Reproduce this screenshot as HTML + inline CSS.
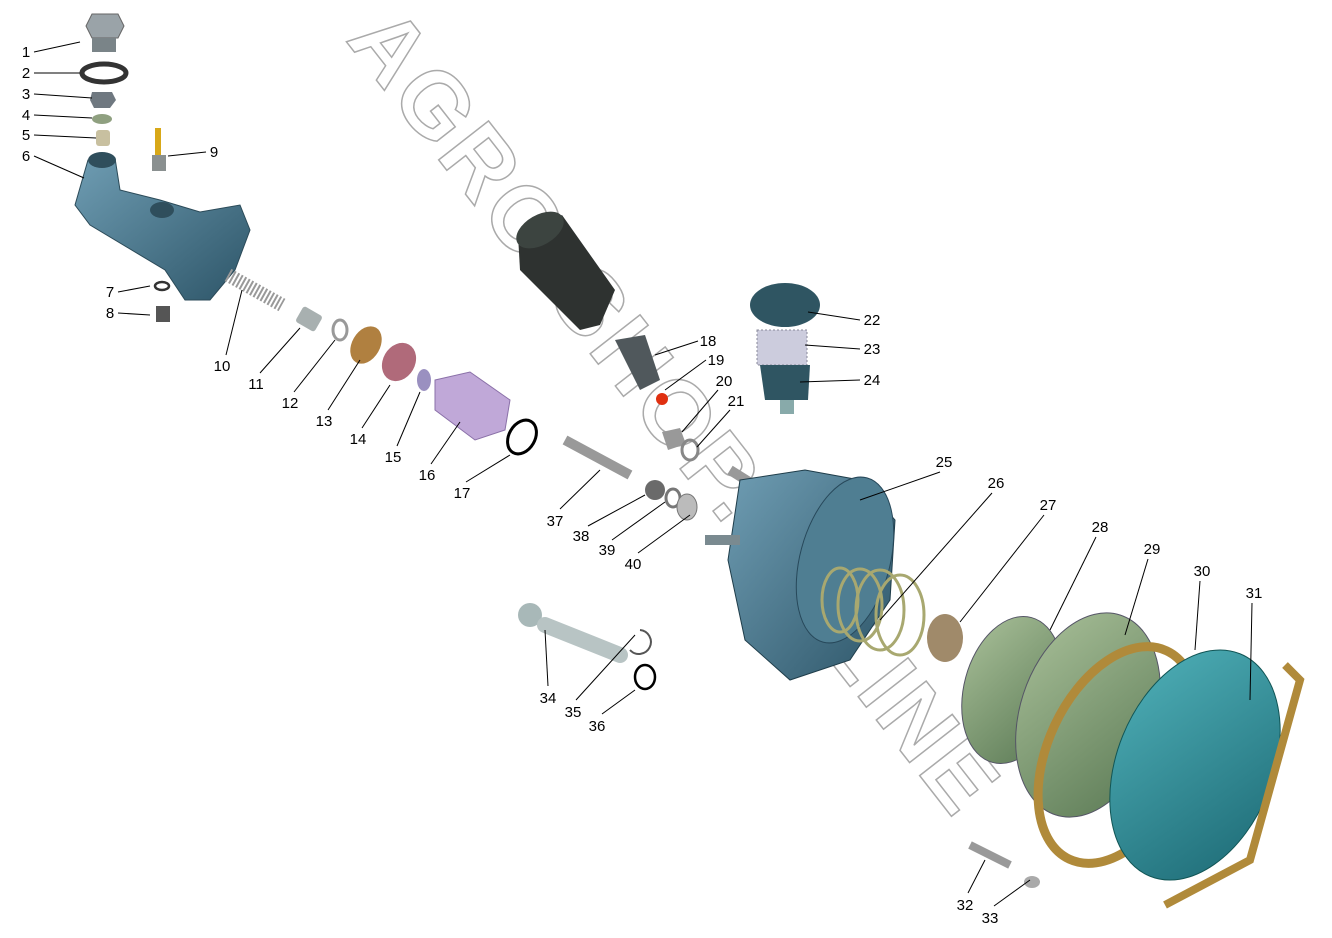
<!DOCTYPE html>
<html><head><meta charset="utf-8"><style>
html,body{margin:0;padding:0;background:#fff;}
svg{display:block}
.l{font-family:"Liberation Sans",sans-serif;font-size:15px;fill:#000}
.ln{stroke:#000;stroke-width:1}
</style></head><body>
<svg width="1332" height="938" viewBox="0 0 1332 938" xmlns="http://www.w3.org/2000/svg">
<defs>
<linearGradient id="bl" x1="0" y1="0" x2="1" y2="1"><stop offset="0" stop-color="#6f9db3"/><stop offset="1" stop-color="#2d5568"/></linearGradient>
<linearGradient id="gr" x1="0" y1="0" x2="1" y2="1"><stop offset="0" stop-color="#a8bf98"/><stop offset="1" stop-color="#5b7a55"/></linearGradient>
<linearGradient id="tl" x1="0" y1="0" x2="1" y2="1"><stop offset="0" stop-color="#4fb0b8"/><stop offset="1" stop-color="#1d6a75"/></linearGradient>
</defs>
<text x="0" y="0" transform="translate(345,40) rotate(52)" font-family="Liberation Sans,sans-serif" font-weight="bold" font-size="92" fill="#fff" stroke="#aaa" stroke-width="1.5" letter-spacing="4">AGRO-SHOP.ONLINE</text>

<g>
<polygon points="92,14 118,14 124,26 118,38 92,38 86,26" fill="#9aa3a8" stroke="#666"/>
<rect x="92" y="38" width="24" height="14" fill="#7a8488"/>
<ellipse cx="104" cy="73" rx="22" ry="9" fill="none" stroke="#333" stroke-width="5"/>
<polygon points="92,92 112,92 116,100 110,108 94,108 90,100" fill="#6f7880"/>
<ellipse cx="102" cy="119" rx="10" ry="5" fill="#8fa080"/>
<rect x="96" y="130" width="14" height="16" rx="3" fill="#c8c0a0"/>
<path d="M88,160 L115,158 L120,190 L160,200 L200,212 L240,205 L250,230 L235,270 L210,300 L185,300 L165,270 L90,225 L75,205 Z" fill="url(#bl)" stroke="#2b4a58"/>
<ellipse cx="102" cy="160" rx="14" ry="8" fill="#2f4e5c"/>
<ellipse cx="162" cy="210" rx="12" ry="8" fill="#2f4e5c"/>
<rect x="155" y="128" width="6" height="30" fill="#d8a818"/>
<rect x="152" y="155" width="14" height="16" fill="#8a9090"/>
<ellipse cx="162" cy="286" rx="7" ry="4" fill="none" stroke="#333" stroke-width="2.5"/>
<rect x="156" y="306" width="14" height="16" fill="#555"/>
<path d="M228,275 L282,305" stroke="#999" stroke-width="14" stroke-dasharray="2,2"/>
</g>
<rect x="298" y="310" width="22" height="18" rx="3" fill="#a8b0b0" transform="rotate(30 309 319)"/>
<ellipse cx="340" cy="330" rx="7" ry="10" fill="none" stroke="#999" stroke-width="3"/>
<ellipse cx="366" cy="345" rx="14" ry="20" fill="#b08040" transform="rotate(30 366 345)"/>
<ellipse cx="399" cy="362" rx="16" ry="20" fill="#b06a7a" transform="rotate(30 399 362)"/>
<ellipse cx="424" cy="380" rx="7" ry="11" fill="#9a90c0"/>
<path d="M435,380 L470,372 L510,400 L505,430 L475,440 L435,410 Z" fill="#c0a8d8" stroke="#8a70a8"/>
<ellipse cx="522" cy="437" rx="13" ry="18" fill="none" stroke="#000" stroke-width="3" transform="rotate(30 522 437)"/>
<path d="M518,235 L562,215 L615,290 L600,325 L580,330 L520,270 Z" fill="#2e3230"/>
<ellipse cx="540" cy="230" rx="26" ry="15" fill="#3c4440" transform="rotate(-30 540 230)"/>
<path d="M615,340 L645,335 L660,380 L640,390 Z" fill="#50585c"/>
<circle cx="662" cy="399" r="6" fill="#e03010"/>
<ellipse cx="785" cy="305" rx="35" ry="22" fill="#2f5562"/>
<rect x="757" y="330" width="50" height="35" fill="#ccd" stroke="#889" stroke-dasharray="2,2"/>
<path d="M760,365 L810,365 L808,400 L765,400 Z" fill="#2f5562"/>
<rect x="780" y="400" width="14" height="14" fill="#8aa"/>
<polygon points="662,432 680,428 686,444 668,450" fill="#999"/>
<ellipse cx="690" cy="450" rx="8" ry="10" fill="none" stroke="#888" stroke-width="3"/>
<path d="M565,440 L630,475" stroke="#999" stroke-width="10"/>
<ellipse cx="655" cy="490" rx="10" ry="10" fill="#6a6a6a"/>
<ellipse cx="673" cy="498" rx="7" ry="9" fill="none" stroke="#777" stroke-width="3"/>
<ellipse cx="687" cy="507" rx="10" ry="13" fill="#bbb" stroke="#777"/>
<path d="M730,470 L770,495" stroke="#999" stroke-width="10"/>
<ellipse cx="530" cy="615" rx="12" ry="12" fill="#a8b8b8"/>
<path d="M545,625 L620,655" stroke="#b8c4c4" stroke-width="16" stroke-linecap="round"/>
<path d="M640,630 A12 12 0 1 1 630,650" fill="none" stroke="#555" stroke-width="2"/>
<ellipse cx="645" cy="677" rx="10" ry="12" fill="none" stroke="#000" stroke-width="2.5"/>
<path d="M740,480 L805,470 L860,480 L895,520 L890,600 L850,660 L790,680 L745,640 L728,560 Z" fill="url(#bl)" stroke="#1f3d4a"/>
<ellipse cx="845" cy="560" rx="45" ry="85" fill="#4f7e92" stroke="#27485a" transform="rotate(15 845 560)"/>
<rect x="705" y="535" width="35" height="10" fill="#7a8a90"/>
<g fill="none" stroke="#a8a870" stroke-width="3">
<ellipse cx="840" cy="600" rx="18" ry="32"/><ellipse cx="860" cy="605" rx="22" ry="36"/><ellipse cx="880" cy="610" rx="24" ry="40"/><ellipse cx="900" cy="615" rx="24" ry="40"/>
</g>
<ellipse cx="945" cy="638" rx="18" ry="24" fill="#a08a6a"/>
<ellipse cx="1012" cy="690" rx="48" ry="75" fill="url(#gr)" stroke="#556" transform="rotate(15 1012 690)"/>
<ellipse cx="1088" cy="715" rx="68" ry="105" fill="url(#gr)" stroke="#556" transform="rotate(18 1088 715)"/>
<ellipse cx="1118" cy="755" rx="70" ry="115" fill="none" stroke="#b08a3a" stroke-width="9" transform="rotate(25 1118 755)"/>
<ellipse cx="1195" cy="765" rx="78" ry="120" fill="url(#tl)" stroke="#155" transform="rotate(22 1195 765)"/>
<path d="M1285,665 L1300,680 L1250,860 L1165,905" fill="none" stroke="#b08a3a" stroke-width="8"/>
<path d="M970,845 L1010,865" stroke="#999" stroke-width="8"/>
<ellipse cx="1032" cy="882" rx="8" ry="6" fill="#aaa"/>

<g class="ln">
<line x1="34" y1="52" x2="80" y2="42"/><line x1="34" y1="73" x2="80" y2="73"/><line x1="34" y1="94" x2="92" y2="98"/>
<line x1="34" y1="115" x2="92" y2="118"/><line x1="34" y1="135" x2="96" y2="138"/><line x1="34" y1="156" x2="84" y2="178"/>
<line x1="118" y1="292" x2="150" y2="286"/><line x1="118" y1="313" x2="150" y2="315"/><line x1="206" y1="152" x2="168" y2="156"/>
<line x1="226" y1="355" x2="242" y2="290"/><line x1="260" y1="373" x2="300" y2="328"/><line x1="294" y1="392" x2="335" y2="340"/>
<line x1="328" y1="410" x2="360" y2="360"/><line x1="362" y1="428" x2="390" y2="385"/><line x1="397" y1="446" x2="420" y2="392"/>
<line x1="431" y1="464" x2="460" y2="422"/><line x1="466" y1="482" x2="510" y2="455"/>
<line x1="698" y1="341" x2="655" y2="355"/><line x1="706" y1="360" x2="665" y2="390"/><line x1="718" y1="390" x2="682" y2="432"/>
<line x1="730" y1="410" x2="697" y2="447"/><line x1="860" y1="320" x2="808" y2="312"/><line x1="860" y1="349" x2="805" y2="345"/>
<line x1="860" y1="380" x2="800" y2="382"/><line x1="940" y1="472" x2="860" y2="500"/><line x1="992" y1="493" x2="880" y2="620"/>
<line x1="1044" y1="515" x2="960" y2="622"/><line x1="1096" y1="537" x2="1050" y2="630"/><line x1="1148" y1="559" x2="1125" y2="635"/>
<line x1="1200" y1="581" x2="1195" y2="650"/><line x1="1252" y1="603" x2="1250" y2="700"/>
<line x1="968" y1="893" x2="985" y2="860"/><line x1="994" y1="906" x2="1030" y2="880"/>
<line x1="548" y1="686" x2="545" y2="630"/><line x1="576" y1="700" x2="635" y2="635"/><line x1="602" y1="714" x2="635" y2="690"/>
<line x1="560" y1="509" x2="600" y2="470"/><line x1="588" y1="526" x2="645" y2="495"/><line x1="612" y1="540" x2="665" y2="502"/><line x1="638" y1="553" x2="690" y2="515"/>
</g>
<g class="l" text-anchor="middle">
<text x="26" y="57">1</text><text x="26" y="78">2</text><text x="26" y="99">3</text><text x="26" y="120">4</text>
<text x="26" y="140">5</text><text x="26" y="161">6</text><text x="110" y="297">7</text><text x="110" y="318">8</text>
<text x="214" y="157">9</text><text x="222" y="371">10</text><text x="256" y="389">11</text><text x="290" y="408">12</text>
<text x="324" y="426">13</text><text x="358" y="444">14</text><text x="393" y="462">15</text><text x="427" y="480">16</text>
<text x="462" y="498">17</text><text x="708" y="346">18</text><text x="716" y="365">19</text><text x="724" y="386">20</text>
<text x="736" y="406">21</text><text x="872" y="325">22</text><text x="872" y="354">23</text><text x="872" y="385">24</text>
<text x="944" y="467">25</text><text x="996" y="488">26</text><text x="1048" y="510">27</text><text x="1100" y="532">28</text>
<text x="1152" y="554">29</text><text x="1202" y="576">30</text><text x="1254" y="598">31</text><text x="965" y="910">32</text>
<text x="990" y="923">33</text><text x="548" y="703">34</text><text x="573" y="717">35</text><text x="597" y="731">36</text>
<text x="555" y="526">37</text><text x="581" y="541">38</text><text x="607" y="555">39</text><text x="633" y="569">40</text>
</g>
</svg>
</body></html>
